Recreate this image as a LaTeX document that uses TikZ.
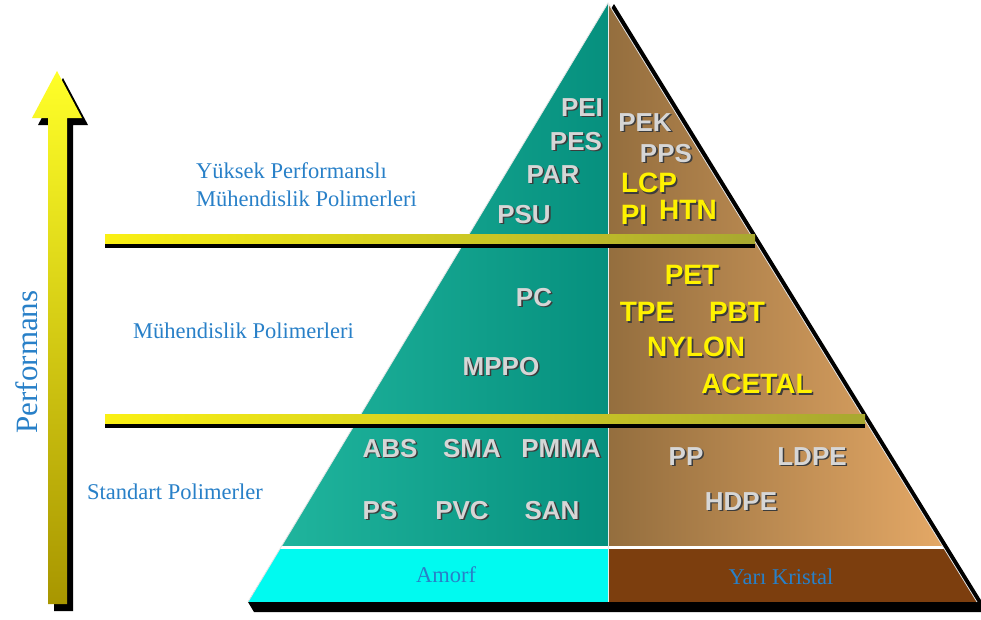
\documentclass[tikz,border=0pt]{standalone}
\usepackage{fontspec}
\setmainfont{Liberation Serif}
\setsansfont{Liberation Sans}

\definecolor{tealL}{RGB}{34,184,160}
\definecolor{tealR}{RGB}{6,144,126}
\definecolor{tanL}{RGB}{148,110,62}
\definecolor{tanR}{RGB}{236,174,106}
\definecolor{baseCyan}{RGB}{0,250,240}
\definecolor{baseBrown}{RGB}{124,62,14}
\definecolor{barYellow}{RGB}{250,240,20}
\definecolor{barOlive}{RGB}{168,168,48}
\definecolor{lblBlue}{RGB}{40,128,200}
\definecolor{lblGrey}{RGB}{214,214,214}
\definecolor{lblShadow}{RGB}{60,60,60}
\definecolor{arrowTop}{RGB}{255,255,40}
\definecolor{arrowBot}{RGB}{168,150,0}

\newcommand{\dropshadow}[1]{\makebox[0pt][l]{\hspace{1.6pt}\raisebox{-1.6pt}{\color{lblShadow}#1}}#1}

\tikzset{
  polymer/.style={font=\sffamily\bfseries\fontsize{26}{26}\selectfont, text=lblGrey, inner sep=0pt},
  hot polymer/.style={polymer, font=\sffamily\bfseries\fontsize{28}{28}\selectfont, text=yellow},
  class/.style={font=\fontsize{22.5}{28}\selectfont, text=lblBlue, inner sep=0pt, align=left},
}

\begin{document}
\begin{tikzpicture}[x=1pt,y=-1pt]
  \useasboundingbox (0,0) rectangle (981,619);
  \fill[white] (0,0) rectangle (981,619);

  % performance arrow
  \fill[black, shift={(6,7)}] (48,604) -- (48,118) -- (32,118) -- (57,71) -- (82,118) -- (67,118) -- (67,604) -- cycle;
  \shade[top color=arrowTop, bottom color=arrowBot] (48,604) -- (48,118) -- (32,118) -- (57,71) -- (82,118) -- (67,118) -- (67,604) -- cycle;
  \node[class, font=\fontsize{31}{31}\selectfont, rotate=90] (performans) at (27,362) {Performans};

  % pyramid
  \coordinate (apex) at (608,3);
  \coordinate (bl) at (248,602);
  \coordinate (br) at (977,602);
  \fill[black] (614,4) -- (984,605) -- (985,612) -- (254,612) -- (248,602) -- cycle;
  \begin{scope}
    \clip (apex) -- (br) -- (bl) -- cycle;
    \shade[left color=tealL, right color=tealR] (248,0) rectangle (608,546);
    \shade[left color=tanL, right color=tanR] (608,0) rectangle (977,546);
    \fill[white] (248,546) rectangle (977,549);
    \fill[baseCyan] (248,549) rectangle (608,602);
    \fill[baseBrown] (608,549) rectangle (977,602);
  \end{scope}
  \draw[white!80!gray, line width=0.8] (bl) -- (apex) -- (br);
  \draw[white!85!gray, line width=0.8] (apex) -- (608,602);

  % level bars
  \fill[black] (105,243) rectangle (755,248);
  \shade[left color=barYellow, right color=barOlive] (105,234) rectangle (755,243);
  \fill[black] (105,423) rectangle (865,428);
  \shade[left color=barYellow, right color=barOlive] (105,414) rectangle (865,423);

  % class names
  \node[class, anchor=west] (yuksek) at (196,185) {Yüksek Performanslı\\Mühendislik Polimerleri};
  \node[class, anchor=west] (muhendislik) at (133,331) {Mühendislik Polimerleri};
  \node[class, anchor=west] (standart) at (87,492) {Standart Polimerler};
  \node[class] (amorf) at (446,575) {Amorf};
  \node[class] (yarikristal) at (781,577) {Yarı Kristal};

  % amorphous polymers
  \node[polymer] (pei) at (582,108) {\dropshadow{PEI}};
  \node[polymer] (pes) at (576,142) {\dropshadow{PES}};
  \node[polymer] (par) at (553,175) {\dropshadow{PAR}};
  \node[polymer] (psu) at (524,215) {\dropshadow{PSU}};
  \node[polymer] (pc) at (534,298) {\dropshadow{PC}};
  \node[polymer] (mppo) at (501,367) {\dropshadow{MPPO}};
  \node[polymer] (abs) at (390,449) {\dropshadow{ABS}};
  \node[polymer] (sma) at (472,449) {\dropshadow{SMA}};
  \node[polymer] (pmma) at (561,449) {\dropshadow{PMMA}};
  \node[polymer] (ps) at (380,511) {\dropshadow{PS}};
  \node[polymer] (pvc) at (462,511) {\dropshadow{PVC}};
  \node[polymer] (san) at (552,511) {\dropshadow{SAN}};

  % semi-crystalline polymers
  \node[polymer] (pek) at (645,123) {\dropshadow{PEK}};
  \node[polymer] (pps) at (666,154) {\dropshadow{PPS}};
  \node[hot polymer] (lcp) at (649,184) {\dropshadow{LCP}};
  \node[hot polymer] (pi) at (634,216) {\dropshadow{PI}};
  \node[hot polymer] (htn) at (688,211) {\dropshadow{HTN}};
  \node[hot polymer] (pet) at (692,276) {\dropshadow{PET}};
  \node[hot polymer] (tpe) at (647,313) {\dropshadow{TPE}};
  \node[hot polymer] (pbt) at (737,313) {\dropshadow{PBT}};
  \node[hot polymer] (nylon) at (696,348) {\dropshadow{NYLON}};
  \node[hot polymer] (acetal) at (757,385) {\dropshadow{ACETAL}};
  \node[polymer] (pp) at (686,457) {\dropshadow{PP}};
  \node[polymer] (ldpe) at (812,457) {\dropshadow{LDPE}};
  \node[polymer] (hdpe) at (741,502) {\dropshadow{HDPE}};
\end{tikzpicture}
\end{document}
